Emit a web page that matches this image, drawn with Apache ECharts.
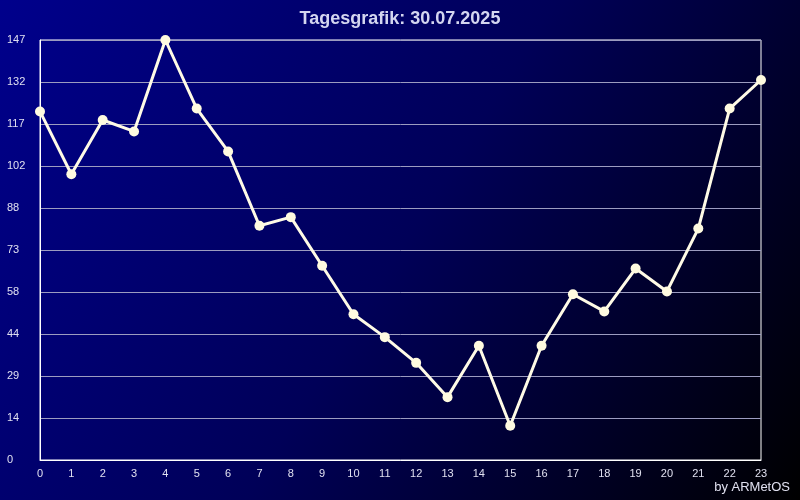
<!DOCTYPE html>
<html>
<head>
<meta charset="utf-8">
<script src="https://cdn.jsdelivr.net/npm/echarts@6/dist/echarts.min.js"></script>
<style>
html,body{margin:0;padding:0;background:#000;}
#chart{width:800px;height:500px;}
</style>
</head>
<body>
<div id="chart"></div>
<script>
var titleText = 'Tagesgrafik: 30.07.2025';
var creditText = 'by ARMetOS';
var hours = ['0','1','2','3','4','5','6','7','8','9','10','11','12','13','14','15','16','17','18','19','20','21','22','23'];
var values = [122,100,119,115,147,123,108,82,85,68,51,43,34,22,40,12,40,58,52,67,59,81,123,133];
var yTickLabels = ['0','14','29','44','58','73','88','102','117','132','147'];
var yMax = 147;
var yStep = 14.7;

var chart = echarts.init(document.getElementById('chart'), null, {renderer:'canvas'});
chart.setOption({
  animation: false,
  backgroundColor: {
    type: 'linear', x: 0, y: 0, x2: 1, y2: 1,
    colorStops: [
      {offset: 0, color: '#00008c'},
      {offset: 0.5, color: '#000058'},
      {offset: 1, color: '#000000'}
    ]
  },
  title: {
    text: titleText,
    left: 'center',
    top: 5,
    textStyle: {color: '#d4d6f0', fontFamily: 'Liberation Sans', fontWeight: 'bold', fontSize: 18}
  },
  graphic: [{
    type: 'text',
    right: 10,
    bottom: 6,
    style: {text: creditText, fill: '#e0e0f0', font: '13px "Liberation Sans"'}
  }],
  grid: {
    left: 40, right: 39, top: 40, bottom: 40,
    show: true, borderColor: '#ffffff', borderWidth: 1,
    backgroundColor: 'transparent'
  },
  xAxis: {
    type: 'category',
    data: hours,
    boundaryGap: false,
    axisLine: {show: true, lineStyle: {color: '#ffffff', width: 1}},
    axisTick: {show: false},
    axisLabel: {color: '#e0e0f0', fontFamily: 'Liberation Sans', fontSize: 11, margin: 8},
    splitLine: {show: false}
  },
  yAxis: {
    type: 'value',
    min: 0, max: yMax, interval: yStep,
    axisLine: {show: true, lineStyle: {color: '#ffffff', width: 1}},
    axisTick: {show: false},
    axisLabel: {
      color: '#e0e0f0', fontFamily: 'Liberation Sans', fontSize: 11,
      align: 'left', margin: 33,
      formatter: function (v) { return yTickLabels[Math.round(v / yStep)]; }
    },
    splitLine: {show: true, lineStyle: {color: '#9c9cc0', width: 1}}
  },
  series: [{
    type: 'line',
    data: values,
    symbol: 'circle',
    symbolSize: 10,
    lineStyle: {color: '#fffbe6', width: 3},
    itemStyle: {color: '#fffbe0', borderWidth: 0},
    z: 5
  }]
});
</script>
</body>
</html>
